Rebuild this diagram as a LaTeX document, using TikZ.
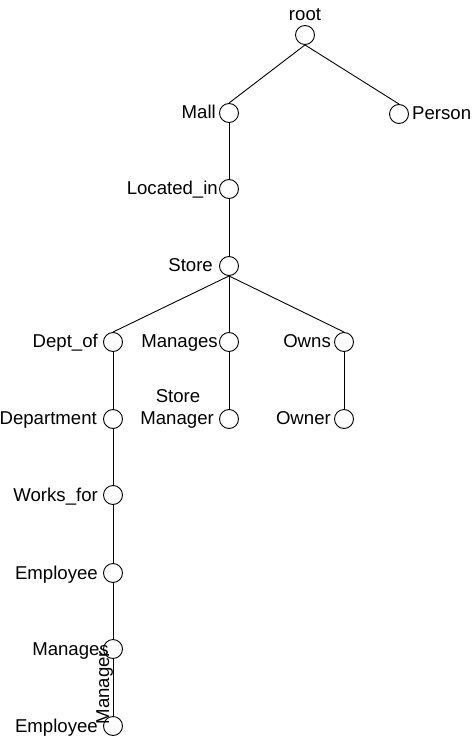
\documentclass[tikz,border=0pt]{standalone}
\usepackage{fontspec}
\setmainfont{Liberation Sans}
\begin{document}
\begin{tikzpicture}[x=1pt,y=-1pt,
  v/.style={circle,draw,minimum size=19pt,inner sep=0pt,line width=0.9pt},
  lbl/.style={font=\fontsize{18.6}{20}\selectfont,inner sep=0pt},
  edge/.style={line width=0.9pt}]
\useasboundingbox[fill=white] (0,0) rectangle (471,738);
% vertices
\node[v] (root) at (305,35) {};
\node[v] (mall) at (229,113) {};
\node[v] (person) at (399,114) {};
\node[v] (loc) at (229,189) {};
\node[v] (store) at (229,266) {};
\node[v] (dept) at (113,342) {};
\node[v] (man1) at (229,342) {};
\node[v] (owns) at (344,342) {};
\node[v] (department) at (113,419) {};
\node[v] (smgr) at (229,419) {};
\node[v] (owner) at (344,419) {};
\node[v] (works) at (113,495) {};
\node[v] (emp1) at (113,573) {};
\node[v] (man2) at (113,649) {};
\node[v] (emp2) at (113,726) {};
% labels
\node[lbl,anchor=base] (lroot) at (305,21) {root};
\node[lbl,anchor=base east] (lmall) at (216,119) {Mall};
\node[lbl,anchor=base west] (lperson) at (412,120) {Person};
\node[lbl,anchor=base east] (lloc) at (218,194) {Located\_in};
\node[lbl,anchor=base east] (lstore) at (213,271) {Store};
\node[lbl,anchor=base east] (ldept) at (98,347) {Dept\_of};
\node[lbl,anchor=base east] (lman1) at (218,347) {Manages};
\node[lbl,anchor=base east] (lowns) at (331,347) {Owns};
\node[lbl,anchor=base] (lsmgr1) at (178,402) {Store};
\node[lbl,anchor=base east] (lsmgr2) at (214,424) {Manager};
\node[lbl,anchor=base east] (ldepartment) at (97,424) {Department};
\node[lbl,anchor=base east] (lowner) at (331,424) {Owner};
\node[lbl,anchor=base east] (lworks) at (98,501) {Works\_for};
\node[lbl,anchor=base east] (lemp1) at (98,579) {Employee};
\node[lbl,anchor=base east] (lman2) at (109,655) {Manages};
\node[lbl,anchor=base east] (lemp2) at (98,732) {Employee};
% edges
\draw[edge] (root.south) -- (mall.north);
\draw[edge] (root.south) -- (person.north);
\draw[edge] (mall.south) -- (loc.north);
\draw[edge] (loc.south) -- (store.north);
\draw[edge] (store.south) -- (dept.north);
\draw[edge] (store.south) -- (man1.north);
\draw[edge] (store.south) -- (owns.north);
\draw[edge] (dept.south) -- (department.north);
\draw[edge] (man1.south) -- (smgr.north);
\draw[edge] (owns.south) -- (owner.north);
\draw[edge] (department.south) -- (works.north);
\draw[edge] (works.south) -- (emp1.north);
\draw[edge] (emp1.south) -- (man2.north);
\draw[edge] (man2.south) -- node[lbl,rotate=90,anchor=base,yshift=4pt] (lmgr) {Manager} (emp2.north);
\end{tikzpicture}
\end{document}
